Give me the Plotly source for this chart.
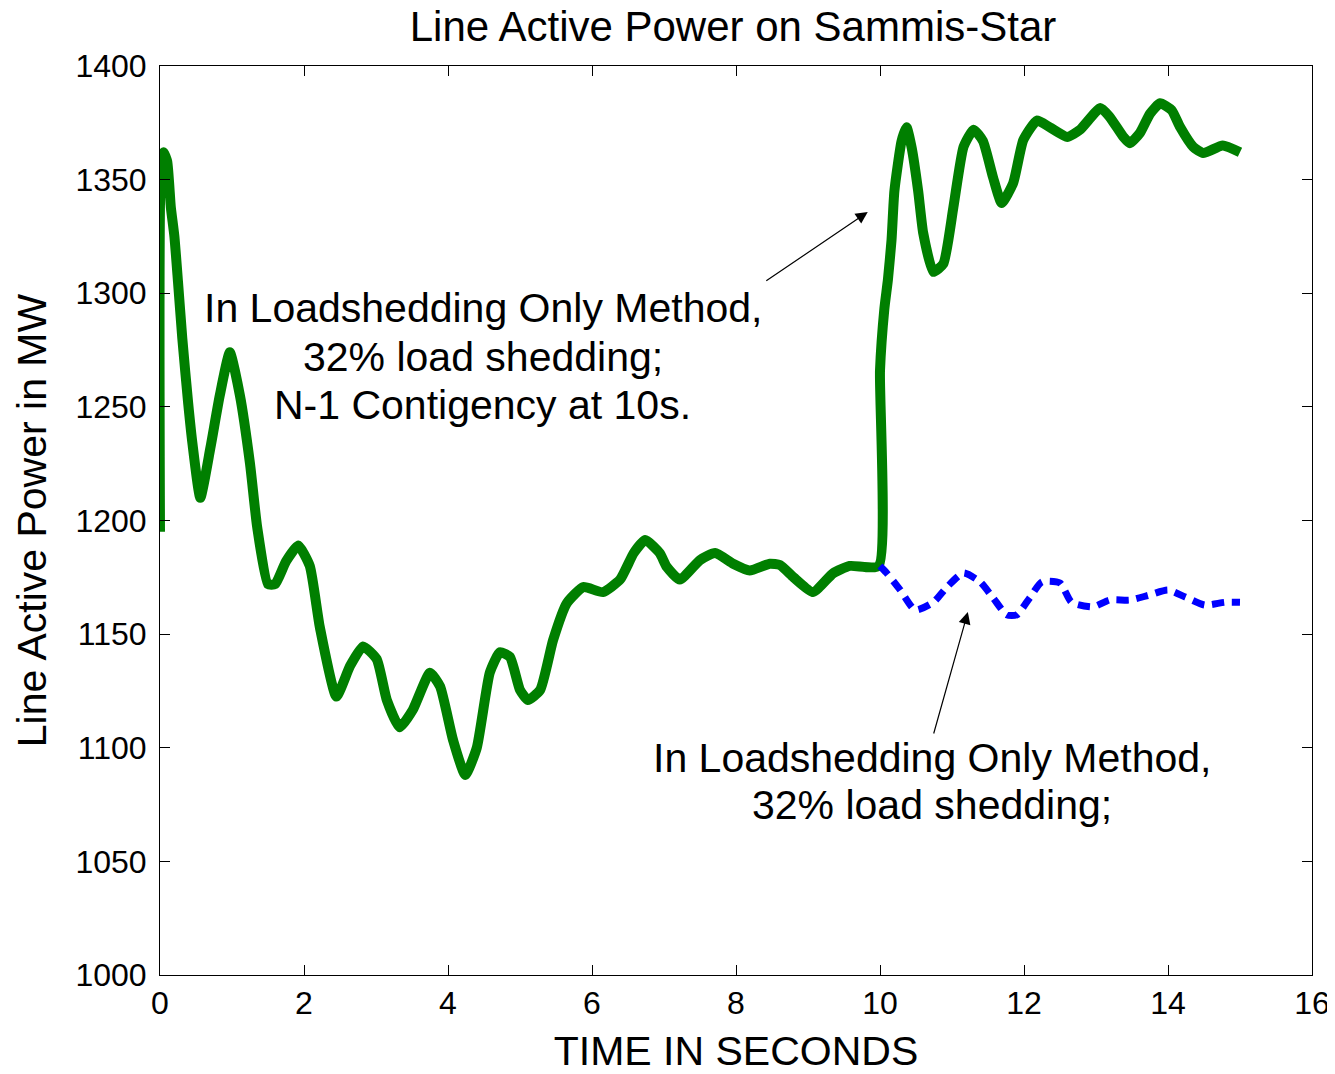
import plotly.graph_objects as go

# green: load shedding only + N-1 contingency at 10 s
t_green = [0.0, 0.02, 0.05, 0.1, 0.15, 0.2, 0.25, 0.31, 0.39, 0.45, 0.56, 0.7, 0.83,
           0.97, 1.11, 1.25, 1.35, 1.5, 1.6, 1.75, 1.92, 2.08, 2.22, 2.45, 2.64, 2.82,
           3.01, 3.15, 3.33, 3.51, 3.75, 3.89, 4.07, 4.24, 4.4, 4.58, 4.72, 4.86, 5.0,
           5.11, 5.28, 5.46, 5.65, 5.88, 6.15, 6.39, 6.58, 6.74, 6.94, 7.04, 7.22, 7.5,
           7.71, 7.96, 8.19, 8.47, 8.61, 8.8, 9.07, 9.35, 9.58, 9.98, 10.0, 10.06,
           10.11, 10.16, 10.2, 10.3, 10.37, 10.44, 10.53, 10.6, 10.74, 10.88, 11.02,
           11.16, 11.3, 11.43, 11.57, 11.69, 11.85, 11.99, 12.18, 12.36, 12.6, 12.78,
           13.06, 13.19, 13.38, 13.47, 13.61, 13.75, 13.89, 14.05, 14.17, 14.35, 14.49,
           14.76, 15.0]
p_green = [1195, 1360, 1362, 1358, 1338, 1325, 1305, 1280, 1252, 1234, 1210, 1232, 1255,
           1274, 1255, 1225, 1197, 1172, 1172, 1182, 1189, 1180, 1153, 1122.5, 1136, 1144.6,
           1139, 1121, 1109, 1116.6, 1133, 1127, 1103.4, 1088, 1100, 1133, 1142, 1140, 1125.4,
           1121, 1125.4, 1147.4, 1163.6, 1170.7, 1168.5, 1174, 1185.7, 1191.4, 1185.7, 1179.5,
           1174, 1182.6, 1185.7, 1181, 1178, 1181, 1180.4, 1175, 1168.5, 1176.8, 1180, 1180,
           1266, 1293, 1306, 1323.4, 1345, 1367, 1373, 1364, 1345, 1326.5, 1309.4, 1313,
           1338, 1364.4, 1372, 1367, 1351, 1339.7, 1348.5, 1367.4, 1376, 1373, 1368.8, 1372,
           1381.5, 1377.6, 1368.8, 1366, 1370.5, 1379, 1383.6, 1380.6, 1373, 1364.4, 1361.7,
           1365, 1362]

# blue: load shedding only
t_blue = [10.0, 10.09, 10.28, 10.49, 10.74, 10.93, 11.16, 11.39, 11.57, 11.76, 11.9,
          12.08, 12.25, 12.5, 12.66, 12.96, 13.19, 13.47, 13.72, 14.0, 14.24, 14.51,
          14.79, 15.0]
p_blue = [1180, 1177, 1169.5, 1160.6, 1164, 1170.7, 1176.9, 1173, 1166, 1158.5, 1158.5,
          1166, 1173, 1172.5, 1164, 1162, 1165, 1165, 1167, 1169.4, 1166.3, 1162.8,
          1164, 1164]

x_ticks = list(range(0, 17, 2))
y_ticks = list(range(1000, 1401, 50))

note_top = ["In Loadshedding Only Method,", "32% load shedding;", "N-1 Contigency at 10s."]
note_top_y = [1293.5, 1271.9, 1250.8]
note_bottom = ["In Loadshedding Only Method,", "32% load shedding;"]
note_bottom_y = [1095.5, 1074.8]

FONT = "Arial, Liberation Sans, sans-serif"

fig = go.Figure()
fig.add_trace(go.Scatter(x=t_green, y=p_green, mode="lines",
                         line=dict(color="#007f00", width=10, shape="spline", smoothing=0.5),
                         showlegend=False))
fig.add_trace(go.Scatter(x=t_blue, y=p_blue, mode="lines",
                         line=dict(color="#0000ff", width=7, dash="12px,8px",
                                   shape="spline", smoothing=0.6),
                         showlegend=False))

axis_common = dict(showline=True, linecolor="black", linewidth=1, mirror="ticks",
                   ticks="inside", ticklen=10, tickcolor="black", showgrid=False,
                   zeroline=False, tickfont=dict(size=32, color="black"))

fig.update_xaxes(range=[0, 16], tickvals=x_ticks, ticklabelstandoff=0,
                 ticklabeloverflow="allow",
                 title=dict(text="TIME IN SECONDS", font=dict(size=41, color="black"),
                            standoff=22),
                 **axis_common)
fig.update_yaxes(range=[1000, 1400], tickvals=y_ticks, ticklabelstandoff=6,
                 title=dict(text="Line Active Power in MW", font=dict(size=41, color="black"),
                            standoff=16),
                 **axis_common)

for txt, yy in zip(note_top, note_top_y):
    fig.add_annotation(x=4.486, y=yy, xref="x", yref="y", showarrow=False, text=txt,
                       font=dict(size=41, color="black"))
for txt, yy in zip(note_bottom, note_bottom_y):
    fig.add_annotation(x=10.72, y=yy, xref="x", yref="y", showarrow=False, text=txt,
                       font=dict(size=41, color="black"))

fig.add_annotation(x=9.83, y=1335.8, ax=8.40, ay=1305, xref="x", yref="y",
                   axref="x", ayref="y", text="", showarrow=True, arrowhead=2,
                   arrowsize=2, arrowwidth=1.2, arrowcolor="black")
fig.add_annotation(x=11.22, y=1159.7, ax=10.74, ay=1105.6, xref="x", yref="y",
                   axref="x", ayref="y", text="", showarrow=True, arrowhead=2,
                   arrowsize=2, arrowwidth=1.2, arrowcolor="black")

# page body adds an 8px offset, so the figure is shifted accordingly
fig.update_layout(
    width=1327, height=1066,
    margin=dict(l=152, r=23, t=58, b=99, autoexpand=False),
    paper_bgcolor="white", plot_bgcolor="white",
    font=dict(family=FONT, color="black"),
    title=dict(text="Line Active Power on Sammis-Star", x=725 / 1327, xanchor="center",
               y=1 - 18 / 1066, yanchor="middle", yref="container",
               font=dict(size=42, color="black")),
)

fig.write_html("out.html")
